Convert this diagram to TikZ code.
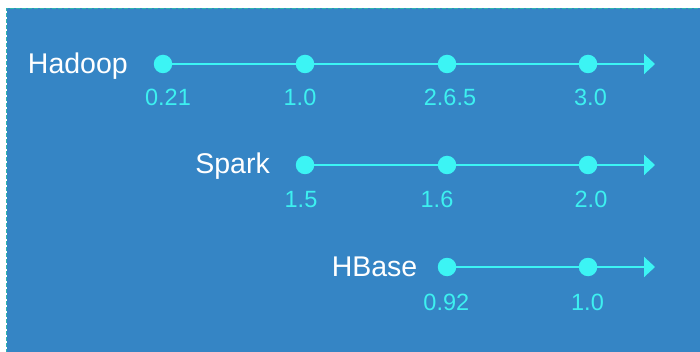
\documentclass[tikz,border=0pt]{standalone}
\usepackage{fontspec}
\setmainfont{Liberation Sans}
\usetikzlibrary{arrows.meta}
\definecolor{bgblue}{HTML}{3585C5}
\definecolor{cyanline}{HTML}{3CF4F4}
\definecolor{cyantext}{HTML}{3DF0F0}
\definecolor{dashteal}{HTML}{2EB5AE}
\tikzset{
  prodname/.style={text=white, font=\fontsize{28.5}{32}\selectfont, inner sep=0pt, anchor=base east},
  ver/.style={text=cyantext, font=\fontsize{23.5}{27}\selectfont, inner sep=0pt, anchor=base},
  vdot/.style={circle, fill=cyanline, minimum size=18.5pt, inner sep=0pt},
  axis/.style={draw=cyanline, line width=2pt, -{Triangle[length=11pt,width=20pt]}},
  seg/.style={draw=cyanline, line width=2pt}
}
\begin{document}
\begin{tikzpicture}[x=1pt,y=-1pt]
\useasboundingbox (0,0) rectangle (700,352);
\fill[white] (0,0) rectangle (700,352);
\fill[bgblue] (6.5,8.5) rectangle (701,353);
\draw[dashteal, line width=1.3pt, dash pattern=on 4pt off 2pt] (6.5,353) -- (6.5,8.5) -- (701,8.5);

% Hadoop
\node[prodname] (hadoop) at (128,73.3) {Hadoop};
\node[vdot] (h1) at (163,64) {};
\node[vdot] (h2) at (305,64) {};
\node[vdot] (h3) at (447,64) {};
\node[vdot] (h4) at (588,64) {};
\coordinate (hend) at (655,64);
\draw[seg] (h1) -- (h2);
\draw[seg] (h2) -- (h3);
\draw[seg] (h3) -- (h4);
\draw[axis] (h4) -- (hend);
\node[ver] (vh1) at (168,106) {0.21};
\node[ver] (vh2) at (300,106) {1.0};
\node[ver] (vh3) at (450,106) {2.6.5};
\node[ver] (vh4) at (590.5,106) {3.0};

% Spark
\node[prodname] (spark) at (270,174) {Spark};
\node[vdot] (s1) at (305,165) {};
\node[vdot] (s2) at (447,165) {};
\node[vdot] (s3) at (588,165) {};
\coordinate (send) at (655,165);
\draw[seg] (s1) -- (s2);
\draw[seg] (s2) -- (s3);
\draw[axis] (s3) -- (send);
\node[ver] (vs1) at (301,208) {1.5};
\node[ver] (vs2) at (437,208) {1.6};
\node[ver] (vs3) at (591,208) {2.0};

% HBase
\node[prodname] (hbase) at (417.5,276) {HBase};
\node[vdot] (b1) at (447,267) {};
\node[vdot] (b2) at (588,267) {};
\coordinate (bend) at (655,267);
\draw[seg] (b1) -- (b2);
\draw[axis] (b2) -- (bend);
\node[ver] (vb1) at (446.3,310) {0.92};
\node[ver] (vb2) at (587.5,310) {1.0};
\end{tikzpicture}
\end{document}
